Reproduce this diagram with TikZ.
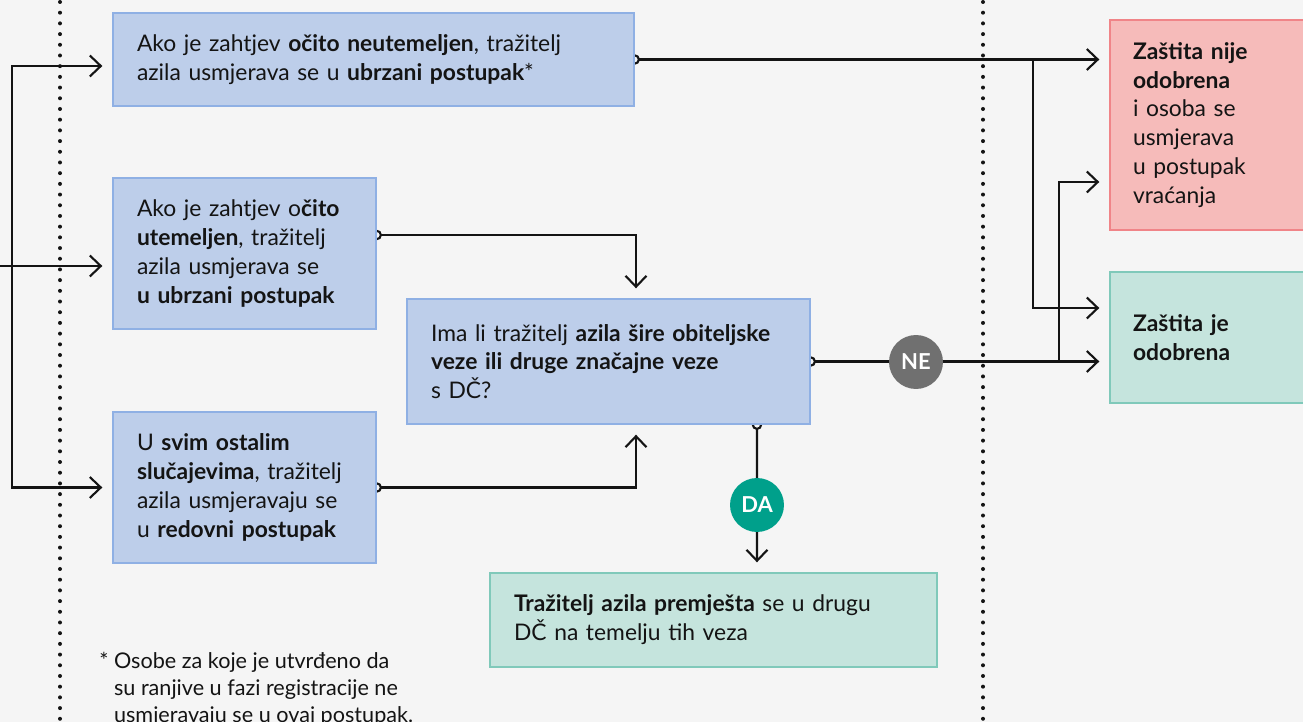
\documentclass[tikz,border=0pt]{standalone}
\usepackage{fontspec}
\setmainfont{Lato}
\usetikzlibrary{arrows.meta}
\pgfdeclarelayer{bg}
\pgfdeclarelayer{lines}
\pgfsetlayers{bg,lines,main}
\definecolor{paper}{RGB}{245,245,245}
\definecolor{ink}{RGB}{20,20,20}
\definecolor{askfill}{RGB}{189,206,234}
\definecolor{askline}{RGB}{143,176,228}
\definecolor{okfill}{RGB}{197,228,221}
\definecolor{okline}{RGB}{128,201,186}
\definecolor{nofill}{RGB}{246,187,186}
\definecolor{noline}{RGB}{240,132,136}
\definecolor{negray}{RGB}{112,112,112}
\definecolor{dateal}{RGB}{0,160,139}
\begin{document}
\begin{tikzpicture}[x=0.02cm, y=-0.02cm, text=ink, font=\fontsize{13}{16.4}\selectfont,
    box/.style={draw, line width=0.8pt, inner xsep=0.48cm, inner ysep=0pt, align=left},
    askbox/.style={box, fill=askfill, draw=askline},
    okbox/.style={box, fill=okfill, draw=okline},
    nobox/.style={box, fill=nofill, draw=noline},
    conn/.style={ink, line width=1.2pt, -{Straight Barb[length=0.22cm, width=0.42cm]}, shorten >=0.2cm},
    src/.style={{Circle[open, length=0.21cm]}-{Straight Barb[length=0.22cm, width=0.42cm]}, shorten <=-0.105cm},
    answer/.style={circle, minimum size=1.08cm, inner sep=0pt, text=white, font=\fontsize{12.5}{13}\selectfont\bfseries},
    dots/.style={ink, line width=0.08cm, line cap=round, dash pattern=on 0pt off 0.214cm}]
  \useasboundingbox (0,0) rectangle (1303,722);
  \begin{pgfonlayer}{bg}
    \fill[paper] (0,0) rectangle (1303,722);
    \foreach \x in {60,983}
      \draw[dots] (\x,2) -- (\x,722);
  \end{pgfonlayer}

  \node[askbox, text width=9.46cm, minimum height=1.86cm] (fast) at (373.5,59.5)
    {Ako je zahtjev \textbf{očito neutemeljen}, tražitelj\\azila usmjerava se u \textbf{ubrzani postupak}*};
  \node[askbox, text width=4.30cm, minimum height=3.02cm] (founded) at (244.5,253.5)
    {Ako je zahtjev o\textbf{čito}\\\textbf{utemeljen}, tražitelj\\azila usmjerava se\\\textbf{u ubrzani postupak}};
  \node[askbox, text width=4.30cm, minimum height=3.02cm] (regular) at (244.5,487.5)
    {U \textbf{svim ostalim}\\\textbf{slučajevima}, tražitelj\\azila usmjeravaju se\\u \textbf{redovni postupak}};
  \node[askbox, text width=7.10cm, minimum height=2.5cm] (ties) at (608.5,361.5)
    {Ima li tražitelj \textbf{azila šire obiteljske}\\\textbf{veze ili druge značajne veze}\\s DČ?};
  \node[okbox, text width=7.98cm, minimum height=1.88cm] (transfer) at (713.5,620)
    {\textbf{Tražitelj azila premješta} se u drugu\\DČ na temelju tih veza};
  \node[nobox, inner xsep=0.46cm, text width=3.16cm, minimum height=4.2cm] (refused) at (1212,125)
    {\textbf{Zaštita nije}\\\textbf{odobrena}\\i osoba se\\usmjerava\\u postupak\\vraćanja};
  \node[okbox, inner xsep=0.46cm, text width=3.16cm, minimum height=2.62cm] (granted) at (1212,337.5)
    {\textbf{Zaštita je}\\\textbf{odobrena}};
  \node[answer, fill=negray] (ne) at (916,362) {NE};
  \node[answer, fill=dateal] (da) at (757,505) {DA};
  \node[anchor=north west, align=left, inner sep=0pt, font=\fontsize{12.3}{15.4}\selectfont] (note) at (99,652)
    {*~Osobe za koje je utvrđeno da\\\phantom{*~}su ranjive u fazi registracije ne\\\phantom{*~}usmjeravaju se u ovaj postupak.};

  \coordinate (in) at (0,266);
  \coordinate (fork) at (12,0);
  \coordinate (split1) at (1033,0);
  \coordinate (split2) at (1059,0);

  \begin{pgfonlayer}{lines}
    \draw[conn] (in) -- (in -| founded.west);
    \draw[conn] (fork |- in) |- ([yshift=-0.13cm]fast.west);
    \draw[conn] (fork |- in) |- (regular.west);
    \draw[conn, src] (fast.east) -- (fast.east -| refused.west);
    \draw[conn] (fast.east -| split1) |- ([yshift=0.59cm]granted.west);
    \draw[conn, src] ([yshift=0.37cm]founded.east) -| ([xshift=0.55cm]ties.north);
    \draw[conn, src] (regular.east) -| ([xshift=0.55cm]ties.south);
    \draw[conn, src] (ties.east) -- (ties.east -| granted.west);
    \draw[conn] (ties.east -| split2) |- ([yshift=-1.14cm]refused.west);
    \draw[conn, src] ([xshift=2.97cm]ties.south) -- ([xshift=0.87cm]transfer.north);
  \end{pgfonlayer}
\end{tikzpicture}
\end{document}
